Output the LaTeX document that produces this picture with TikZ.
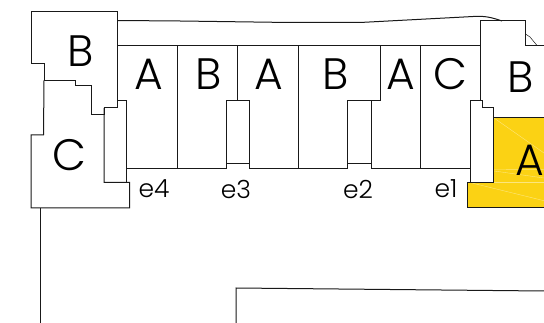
\documentclass[tikz,border=0pt]{standalone}
\usepackage{fontspec}
\setmainfont{Poppins Light}
\definecolor{unitgold}{HTML}{FBD214}
\tikzset{
    wall/.style={draw=black!90, line width=1pt, line join=miter},
    unit/.style={font=\fontsize{44}{44}\selectfont, inner sep=0pt},
    core/.style={font=\fontsize{25}{25}\selectfont, inner sep=0pt},
    glare/.style={draw=white, opacity=0.45, line width=0.4pt},
}

\begin{document}
\begin{tikzpicture}[x=1pt,y=-1pt]
    \useasboundingbox (0,0) rectangle (544,323);

    % yellow unit
    \fill[unitgold] (493.3,117.5) -- (544,117.5) -- (544,208) -- (467.7,208) -- (467.7,182.5) -- (493.3,182.5) -- cycle;
    \draw[glare] (494,118) -- (544,153);
    \draw[glare] (494,169.5) -- (544,169.3);
    \draw[glare] (494,171) -- (544,178);
    \draw[glare] (493.3,182.5) -- (544,182.5);
    \draw[glare] (470.7,182.7) -- (544,200.7);
    \draw[wall] (544,117.5) -- (493.3,117.5) -- (493.3,182.5) -- (467.7,182.5) -- (467.7,208) -- (544,208);

    % end blocks
    \draw[wall] (44,80.5) -- (44,63.5) -- (31,63.5) -- (31,12) -- (117.5,12) -- (117.5,108) -- (104,108) -- (104,114.5) -- (91.5,114.5) -- (91.5,86) -- (75,86) -- (75,80.5) -- cycle;
    \draw[wall] (44,80.5) -- (43.5,135) -- (31,135) -- (31,208) -- (129.5,208) -- (129.5,182.5) -- (104,182.5) -- (104,108);
    \draw[wall] (117.5,108) -- (117.5,101) -- (126.5,101) -- (126.5,182.5);

    % top wall
    \draw[wall] (117.5,20.5) -- (180,21) -- (290,22.5) -- (360,22.5) -- (477,16.3) .. controls (488,16) and (496,19) .. (502,21);

    % row of units
    \draw[wall] (117.5,45.5) -- (480,45.5);
    \draw[wall] (126.5,169) -- (226,169) -- (226,101) -- (249.3,101) -- (249.3,169) -- (347.7,169) -- (347.7,101) -- (380.7,101);
    \draw[wall] (226,163.5) -- (249.3,163.5);
    \draw[wall] (347.7,163.5) -- (371.3,163.5);
    \draw[wall] (371.3,101) -- (371.3,169) -- (470.5,169);
    \draw[wall] (177,45.5) -- (177,169);
    \draw[wall] (237.7,45.5) -- (237.7,101);
    \draw[wall] (298.7,45.5) -- (298.7,169);
    \draw[wall] (380.7,45.5) -- (380.7,101);
    \draw[wall] (420.3,45.5) -- (420.3,169);

    % right block
    \draw[wall] (470.5,182.5) -- (470.5,101) -- (482,101) -- (482,108) -- (493.3,108) -- (493.3,117.5);
    \draw[wall] (480,101) -- (480,21) -- (525.5,21) -- (525.5,45.5) -- (544,45.5);
    \draw[wall, line width=0.5pt] (525.5,34) -- (530,37) -- (537,45.5);

    % site lines
    \draw[wall] (40.5,208) -- (40.5,323);
    \draw[wall] (236,323) -- (236,288) -- (544,291);

    % labels
    \node[unit] (blockB) at (80.5,51) {B};
    \node[unit] (blockC) at (69,155.5) {C};
    \node[unit] (unitA) at (149,74) {A};
    \node[unit] (unitB) at (209,74) {B};
    \node[unit] (unitAa) at (269,74) {A};
    \node[unit] (unitBa) at (336,74) {B};
    \node[unit] (unitAb) at (401,74) {A};
    \node[unit] (unitC) at (450,74) {C};
    \node[unit] (unitBb) at (521,77) {B};
    \node[unit] (unitAc) at (530,160) {A};
    \node[core] (coreA) at (154,189) {e4};
    \node[core] (coreB) at (236,189) {e3};
    \node[core] (coreC) at (358,189) {e2};
    \node[core] (coreD) at (446,189) {e1};
\end{tikzpicture}
\end{document}
